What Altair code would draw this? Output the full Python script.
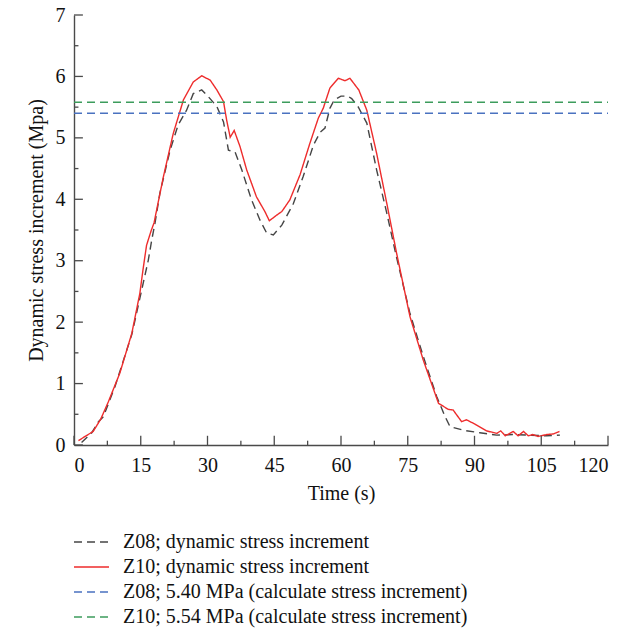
import altair as alt
import pandas as pd

# ---- data ----
z10_t = [1.0, 2.5, 4.3, 6.0, 7.7, 10.3, 13.0, 14.8, 15.5, 16.3, 17.3, 18.0, 19.0, 20.1, 22.3, 24.6,
         26.8, 28.7, 30.6, 32.1, 33.6, 34.3, 35.1, 36.0, 37.3, 38.8, 41.0, 42.9, 43.9, 45.5, 46.7,
         48.5, 50.8, 53.0, 54.9, 56.0, 57.5, 59.4, 60.9, 62.0, 64.0, 65.8, 68.0, 70.3, 72.5, 75.5,
         78.5, 81.9, 84.1, 85.2, 87.1, 88.2, 90.1, 92.7, 95.0, 95.9, 96.9, 98.7, 99.8, 101.0, 102.1,
         103.1, 104.3, 106.2, 107.7, 109.1]
z10_v = [0.07, 0.14, 0.22, 0.42, 0.70, 1.17, 1.82, 2.47, 2.85, 3.25, 3.48, 3.62, 3.98, 4.37, 5.07, 5.62,
         5.91, 6.01, 5.94, 5.78, 5.59, 5.29, 5.01, 5.12, 4.86, 4.48, 4.04, 3.80, 3.65, 3.74, 3.80,
         3.99, 4.40, 4.91, 5.32, 5.48, 5.81, 5.97, 5.93, 5.97, 5.78, 5.45, 4.75, 3.93, 3.12, 2.09,
         1.38, 0.68, 0.58, 0.57, 0.38, 0.41, 0.34, 0.23, 0.19, 0.23, 0.15, 0.22, 0.15, 0.22, 0.15,
         0.17, 0.14, 0.17, 0.18, 0.22]

z08_t = [1.7, 4.0, 5.5, 6.6, 9.2, 13.0, 15.2, 16.7, 17.5, 18.2, 19.3, 21.6, 23.4, 25.3, 26.8, 28.7,
         30.2, 32.1, 33.6, 34.7, 36.2, 37.7, 39.9, 41.8, 43.3, 44.8, 46.7, 49.3, 51.5, 53.8, 55.3,
         56.4, 57.5, 58.5, 60.0, 61.5, 62.4, 63.9, 65.8, 68.0, 70.3, 72.5, 75.5, 78.5, 81.5, 83.4,
         84.5, 87.5, 91.2, 95.0, 98.7, 102.5, 106.2, 109.2]
z08_v = [0.04, 0.20, 0.38, 0.46, 0.95, 1.80, 2.52, 3.01, 3.35, 3.61, 4.10, 4.80, 5.21, 5.45, 5.72, 5.78,
         5.67, 5.51, 5.26, 4.80, 4.77, 4.48, 3.99, 3.66, 3.45, 3.42, 3.58, 3.93, 4.37, 4.88, 5.09,
         5.16, 5.48, 5.62, 5.68, 5.68, 5.64, 5.50, 5.24, 4.48, 3.77, 3.05, 2.14, 1.44, 0.79, 0.46,
         0.30, 0.24, 0.20, 0.16, 0.17, 0.16, 0.15, 0.16]

ref_t = [0, 120]
z08_calc = 5.40
z10_calc = 5.58

series = ["Z08; dynamic stress increment",
          "Z10; dynamic stress increment",
          "Z08; 5.40 MPa (calculate stress increment)",
          "Z10; 5.54 MPa (calculate stress increment)"]
colors = ["#454545", "#ee2c2c", "#4a72c0", "#3c9c5c"]
dashes = [[8, 5], [1, 0], [8, 5], [8, 5]]

x_major = [0, 15, 30, 45, 60, 75, 90, 105, 120]
x_minor = [7.5, 22.5, 37.5, 52.5, 67.5, 82.5, 97.5, 112.5]
y_major = [0, 1, 2, 3, 4, 5, 6, 7]
y_minor = [0.5, 1.5, 2.5, 3.5, 4.5, 5.5, 6.5]

# ---- tables ----
rows = []
for t, v in zip(z08_t, z08_v):
    rows.append({"t": t, "v": v, "s": series[0]})
for t, v in zip(z10_t, z10_v):
    rows.append({"t": t, "v": v, "s": series[1]})
for t in ref_t:
    rows.append({"t": t, "v": z08_calc, "s": series[2]})
for t in ref_t:
    rows.append({"t": t, "v": z10_calc, "s": series[3]})
df = pd.DataFrame(rows)

FONT = "Liberation Serif"
AX = "#4a4a4a"
xs = alt.Scale(domain=[0, 120], nice=False, zero=False)
ys = alt.Scale(domain=[0, 7], nice=False, zero=False)

leg = dict(orient="none", legendX=-1, legendY=517, direction="vertical",
           symbolType="stroke", symbolSize=1225, symbolStrokeWidth=1.5,
           labelFont=FONT, labelFontSize=20, labelColor="#111",
           labelOffset=13, rowPadding=5, clipHeight=20, padding=0, labelLimit=600)

lines = alt.Chart(df).mark_line(strokeWidth=1.4).encode(
    x=alt.X("t:Q", scale=xs, title="Time (s)",
            axis=alt.Axis(values=x_major, format="d", ticks=False, tickSize=0, labelPadding=10,
                          titlePadding=8, grid=False)),
    y=alt.Y("v:Q", scale=ys, title="Dynamic stress increment (Mpa)",
            axis=alt.Axis(values=y_major, format="d", ticks=False, tickSize=0, labelPadding=9,
                          titlePadding=9, grid=False)),
    color=alt.Color("s:N", scale=alt.Scale(domain=series, range=colors), title=None,
                    legend=alt.Legend(**leg)),
    strokeDash=alt.StrokeDash("s:N", scale=alt.Scale(domain=series, range=dashes), title=None,
                              legend=alt.Legend(**leg)),
    order=alt.Order("t:Q"),
)

xmaj = pd.DataFrame({"t": x_major, "y0": 0.0, "y1": 0.15})
xmin = pd.DataFrame({"t": x_minor, "y0": 0.0, "y1": 0.07})
ymaj = pd.DataFrame({"v": y_major, "x0": 0.0, "x1": 2.0})
ymin = pd.DataFrame({"v": y_minor, "x0": 0.0, "x1": 1.0})

def xt(d):
    return alt.Chart(d).mark_rule(color=AX, strokeWidth=1.3).encode(
        x=alt.X("t:Q", scale=xs), y=alt.Y("y0:Q", scale=ys), y2="y1:Q")

def yt(d):
    return alt.Chart(d).mark_rule(color=AX, strokeWidth=1.3).encode(
        y=alt.Y("v:Q", scale=ys), x=alt.X("x0:Q", scale=xs), x2="x1:Q")

chart = alt.layer(lines, xt(xmaj), xt(xmin), yt(ymaj), yt(ymin)).properties(
    width=534, height=430,
    autosize=alt.AutoSizeParams(type="none"),
    padding={"left": 66, "top": 7, "right": 17, "bottom": 183},
).configure_view(stroke=None).configure_axis(
    labelFont=FONT, labelFontSize=20, labelColor="#111",
    titleFont=FONT, titleFontSize=20, titleFontWeight="normal", titleColor="#111",
    domainColor=AX, domainWidth=1.4,
)

chart.save("out.html", embed_options={"renderer": "svg", "actions": False})
